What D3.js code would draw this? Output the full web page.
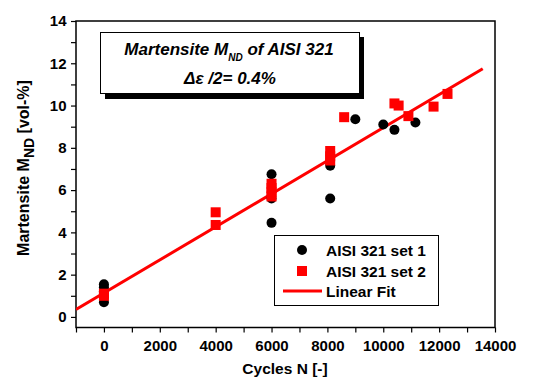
<!DOCTYPE html>
<html><head><meta charset="utf-8">
<script src="https://cdn.jsdelivr.net/npm/d3@7"></script>
<style>
body{margin:0;background:#fff;}
text{font-family:"Liberation Sans",Arial,sans-serif;}
</style></head>
<body><svg id="c" width="542" height="379"></svg>
<script>
const set1X = [0,0,0,0,6000,6000,6000,8100,8100,9000,10000,10400,11150];
const set1Y = [1.55,1.4,1.2,0.7,6.75,5.6,4.45,7.15,5.6,9.35,9.1,8.85,9.2];
const set2X = [0,0,4000,4000,6000,6000,6000,6000,8100,8100,8100,8600,10400,10550,10900,11800,12300];
const set2Y = [1.0,1.1,4.95,4.35,6.3,6.1,5.9,5.7,7.85,7.6,7.4,9.45,10.1,10.0,9.5,9.95,10.55];
const fitX = [-1000,13560];
const fitY = [0.35,11.74];
const xTicks = [0,2000,4000,6000,8000,10000,12000,14000];
const yTicks = [0,2,4,6,8,10,12,14];
const legendLabels = ["AISI 321 set 1","AISI 321 set 2","Linear Fit"];

const svg = d3.select("#c");
const L=76,R=495,T=21,B=327.5;
const x = d3.scaleLinear().domain([-1000,14000]).range([L,R]);
const y = d3.scaleLinear().domain([-0.5,14]).range([B,T]);

svg.append("rect").attr("x",L).attr("y",T).attr("width",R-L).attr("height",B-T)
  .attr("fill","none").attr("stroke","#000").attr("stroke-width",1.5);

const xa = svg.append("g").attr("transform",`translate(0,${B})`)
  .call(d3.axisBottom(x).tickValues(d3.range(-1000,14001,1000)).tickSize(5).tickFormat(d=>xTicks.includes(d)?d:""));
xa.select(".domain").remove();
xa.selectAll("line").attr("stroke","#000").attr("stroke-width",1.2);
xa.selectAll("text").attr("font-size",15).attr("font-weight","bold").attr("fill","#000").attr("dy","1.0em");

const ya = svg.append("g").attr("transform",`translate(${L},0)`)
  .call(d3.axisLeft(y).tickValues(d3.range(0,14.1,1)).tickSize(5).tickFormat(d=>yTicks.includes(d)?d:""));
ya.select(".domain").remove();
ya.selectAll("line").attr("stroke","#000").attr("stroke-width",1.2);
ya.selectAll("text").attr("font-size",15).attr("font-weight","bold").attr("fill","#000").attr("dx","-0.1em");

svg.append("text").attr("x",285).attr("y",374).attr("text-anchor","middle")
  .attr("font-size",15.5).attr("font-weight","bold").text("Cycles N [-]");
const yl = svg.append("text").attr("transform","translate(29,168) rotate(-90)").attr("text-anchor","middle")
  .attr("font-size",16).attr("font-weight","bold");
yl.append("tspan").text("Martensite M");
yl.append("tspan").attr("font-size",14).attr("dy",5).text("ND");
yl.append("tspan").attr("dy",-5).text(" [vol-%]");

svg.append("clipPath").attr("id","clip").append("rect").attr("x",L).attr("y",T).attr("width",R-L).attr("height",B-T);

svg.append("line").attr("clip-path","url(#clip)")
  .attr("x1",x(fitX[0])).attr("y1",y(fitY[0])).attr("x2",x(fitX[1])).attr("y2",y(fitY[1]))
  .attr("stroke","#ff0000").attr("stroke-width",3);

svg.append("g").selectAll("circle").data(set1X).join("circle")
  .attr("cx",(d)=>x(d)).attr("cy",(d,i)=>y(set1Y[i])).attr("r",5).attr("fill","#000");
svg.append("g").selectAll("rect").data(set2X).join("rect")
  .attr("x",d=>x(d)-5).attr("y",(d,i)=>y(set2Y[i])-5).attr("width",10).attr("height",10).attr("fill","#ff0000");

svg.append("rect").attr("x",105).attr("y",37).attr("width",259).attr("height",62).attr("fill","#000");
svg.append("rect").attr("x",100.5).attr("y",32.5).attr("width",259).attr("height",61).attr("fill","#fff").attr("stroke","#000").attr("stroke-width",1);
const t1 = svg.append("text").attr("x",229).attr("y",55).attr("text-anchor","middle")
  .attr("font-size",17).attr("font-weight","bold").attr("font-style","italic");
t1.append("tspan").text("Martensite M");
t1.append("tspan").attr("font-size",10).attr("dy",6).text("ND");
t1.append("tspan").attr("dy",-6).text(" of AISI 321");
svg.append("text").attr("x",230).attr("y",84).attr("text-anchor","middle")
  .attr("font-size",17).attr("font-weight","bold").attr("font-style","italic").text("Δε /2= 0.4%");

svg.append("rect").attr("x",274.5).attr("y",235.5).attr("width",164).attr("height",70).attr("fill","#fff").attr("stroke","#000").attr("stroke-width",1);
svg.append("circle").attr("cx",302).attr("cy",250).attr("r",5).attr("fill","#000");
svg.append("rect").attr("x",297).attr("y",266).attr("width",10).attr("height",10).attr("fill","#ff0000");
svg.append("line").attr("x1",283).attr("x2",322).attr("y1",291).attr("y2",291).attr("stroke","#ff0000").attr("stroke-width",3);
svg.append("g").selectAll("text").data(legendLabels).join("text")
  .attr("x",326).attr("y",(d,i)=>256+i*20.5).attr("font-size",15.5).attr("font-weight","bold").text(d=>d);
</script></body></html>
